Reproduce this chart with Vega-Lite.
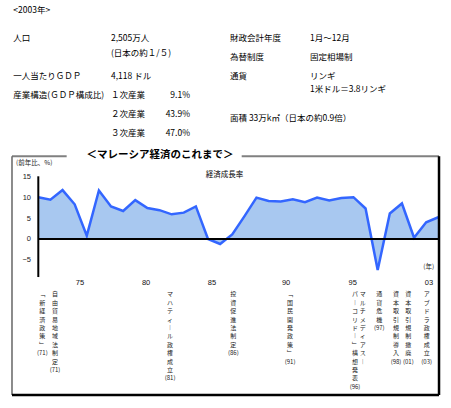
{
  "$schema": "https://vega.github.io/schema/vega-lite/v6.json",
  "padding": 0,
  "spacing": 0,
  "bounds": "flush",
  "config": {"view": {"stroke": null}, "font": "Noto Sans CJK JP", "text": {"font": "Noto Sans CJK JP"}},
  "datasets": {
    "one": [{}],
    "info": [
      {"text": "<2003年>", "col": 0, "line": -0.5},
      {"text": "人口", "col": 0, "line": 1},
      {"text": "2,505万人", "col": 1, "line": 1},
      {"text": "(日本の約１/５)", "col": 1, "line": 1.8},
      {"text": "一人当たりＧＤＰ", "col": 0, "line": 3},
      {"text": "4,118  ドル", "col": 1, "line": 3},
      {"text": "産業構造(ＧＤＰ構成比)", "col": 0, "line": 4},
      {"text": "１次産業", "col": 1, "line": 4},
      {"text": "9.1%", "col": 2, "line": 4},
      {"text": "２次産業", "col": 1, "line": 5},
      {"text": "43.9%", "col": 2, "line": 5},
      {"text": "３次産業", "col": 1, "line": 6},
      {"text": "47.0%", "col": 2, "line": 6},
      {"text": "財政会計年度", "col": 3, "line": 1},
      {"text": "1月～12月", "col": 4, "line": 1},
      {"text": "為替制度", "col": 3, "line": 2},
      {"text": "固定相場制", "col": 4, "line": 2},
      {"text": "通貨", "col": 3, "line": 3},
      {"text": "リンギ", "col": 4, "line": 3},
      {"text": "1米ドル＝3.8リンギ", "col": 4, "line": 3.7},
      {"text": "面積 33万k㎡（日本の約0.9倍）", "col": 3, "line": 5.2}
    ],
    "growth": [
      {"year": 1970, "growth": 10.0}, {"year": 1971, "growth": 9.4}, {"year": 1972, "growth": 11.7},
      {"year": 1973, "growth": 8.3}, {"year": 1974, "growth": 0.8}, {"year": 1975, "growth": 11.6},
      {"year": 1976, "growth": 7.8}, {"year": 1977, "growth": 6.7}, {"year": 1978, "growth": 9.3},
      {"year": 1979, "growth": 7.4}, {"year": 1980, "growth": 6.9}, {"year": 1981, "growth": 5.9},
      {"year": 1982, "growth": 6.3}, {"year": 1983, "growth": 7.8}, {"year": 1984, "growth": 0.0},
      {"year": 1985, "growth": -1.2}, {"year": 1986, "growth": 1.1}, {"year": 1987, "growth": 5.4},
      {"year": 1988, "growth": 9.9}, {"year": 1989, "growth": 9.1}, {"year": 1990, "growth": 9.0},
      {"year": 1991, "growth": 9.5}, {"year": 1992, "growth": 8.8}, {"year": 1993, "growth": 9.9},
      {"year": 1994, "growth": 9.2}, {"year": 1995, "growth": 9.8}, {"year": 1996, "growth": 10.0},
      {"year": 1997, "growth": 7.3}, {"year": 1998, "growth": -7.4}, {"year": 1999, "growth": 6.1},
      {"year": 2000, "growth": 8.5}, {"year": 2001, "growth": 0.3}, {"year": 2002, "growth": 4.0},
      {"year": 2003, "growth": 5.2}
    ],
    "xlabels": [
      {"label": "75", "year": 1973.44}, {"label": "80", "year": 1978.89}, {"label": "85", "year": 1984.33},
      {"label": "90", "year": 1990.44}, {"label": "95", "year": 1995.94}, {"label": "03", "year": 2002.23}
    ],
    "events": [
      {"text": "﹁\n新\n経\n済\n政\n策\n﹂\n(71)", "year": 1970.33},
      {"text": "自\n由\n貿\n易\n地\n域\n法\n制\n定\n(71)", "year": 1971.38},
      {"text": "マ\nハ\nテ\nィ\n︱\nル\n政\n権\n成\n立\n(81)", "year": 1980.87},
      {"text": "投\n資\n促\n進\n法\n制\n定\n\n(86)", "year": 1986.09},
      {"text": "﹁\n国\n民\n開\n発\n政\n策\n﹂\n(91)", "year": 1990.77},
      {"text": "マ\nル\nチ\nメ\nデ\nィ\nア\nス\n︱", "year": 1996.76},
      {"text": "パ\n︱\nコ\nリ\nド\n︱\n﹂\n構\n想\n発\n表\n(96)", "year": 1996.13},
      {"text": "通\n貨\n危\n機\n(97)", "year": 1998.13},
      {"text": "資\n本\n取\n引\n規\n制\n導\n入\n(98)", "year": 1999.51},
      {"text": "資\n本\n取\n引\n規\n制\n撤\n廃\n(01)", "year": 2000.53},
      {"text": "ア\nブ\nド\nラ\n政\n権\n成\n立\n(03)", "year": 2002.04}
    ]
  },
  "vconcat": [
    {
      "width": 451,
      "height": 156,
      "data": {"name": "info"},
      "layer": [
        {
          "transform": [{"filter": "datum.col != 2"}],
          "mark": {"type": "text", "align": "left", "baseline": "middle", "fontSize": 8.5, "color": "#000"},
          "encoding": {
            "x": {"field": "col", "type": "quantitative", "scale": {"domain": [0, 1, 2, 3, 4], "range": [13.3, 111, 190, 230, 310], "nice": false, "zero": false}, "axis": null},
            "y": {"field": "line", "type": "quantitative", "scale": {"domain": [-1.0265, 7.2275], "reverse": true, "nice": false, "zero": false}, "axis": null},
            "text": {"field": "text"}
          }
        },
        {
          "transform": [{"filter": "datum.col == 2"}],
          "mark": {"type": "text", "align": "right", "baseline": "middle", "fontSize": 8.5, "color": "#000"},
          "encoding": {
            "x": {"field": "col", "type": "quantitative", "scale": {"domain": [0, 1, 2, 3, 4], "range": [13.3, 111, 190, 230, 310], "nice": false, "zero": false}, "axis": null},
            "y": {"field": "line", "type": "quantitative", "scale": {"domain": [-1.0265, 7.2275], "reverse": true, "nice": false, "zero": false}, "axis": null},
            "text": {"field": "text"}
          }
        }
      ]
    },
    {
      "width": 440,
      "height": 252,
      "layer": [
        {
          "data": {"name": "growth"},
          "mark": {"type": "area", "color": "#a8c8f0", "opacity": 1},
          "encoding": {
            "x": {"field": "year", "type": "quantitative", "scale": {"domain": [1966.84, 2003.141], "nice": false, "zero": false}, "axis": null},
            "y": {"field": "growth", "type": "quantitative", "scale": {"domain": [-40.431, 19.856], "nice": false, "zero": false},
                  "axis": {"values": [15, 10, 5, 0, -5], "domain": false, "ticks": false, "grid": false, "labelPadding": 2, "offset": -32.5, "labelFont": "Liberation Sans", "labelFontSize": 7.5, "labelColor": "#222", "title": null}},
            "y2": {"datum": 0}
          }
        },
        {
          "data": {"name": "growth"},
          "mark": {"type": "line", "color": "#3366ff", "strokeWidth": 2.5},
          "encoding": {
            "x": {"field": "year", "type": "quantitative", "axis": null},
            "y": {"field": "growth", "type": "quantitative"}
          }
        },
        {
          "data": {"name": "one"},
          "mark": {"type": "rule", "color": "#000", "strokeWidth": 2},
          "encoding": {
            "x": {"datum": 1970, "type": "quantitative", "axis": null},
            "x2": {"datum": 2003},
            "y": {"datum": 0, "type": "quantitative"}
          }
        },
        {
          "data": {"name": "one"},
          "mark": {"type": "rule", "color": "#000", "strokeWidth": 2},
          "encoding": {
            "x": {"datum": 1970, "type": "quantitative", "axis": null},
            "y": {"datum": -9.1, "type": "quantitative"},
            "y2": {"datum": 15}
          }
        },
        {
          "data": {"name": "one"},
          "mark": {"type": "rule", "color": "#808080", "strokeWidth": 2},
          "encoding": {
            "x": {"datum": 1967.83, "type": "quantitative", "axis": null},
            "x2": {"datum": 1972.34},
            "y": {"datum": 19.8, "type": "quantitative"}
          }
        },
        {
          "data": {"name": "one"},
          "mark": {"type": "rule", "color": "#808080", "strokeWidth": 2},
          "encoding": {
            "x": {"datum": 1986.78, "type": "quantitative", "axis": null},
            "x2": {"datum": 2003.06},
            "y": {"datum": 19.8, "type": "quantitative"}
          }
        },
        {
          "data": {"name": "one"},
          "mark": {"type": "rule", "color": "#666666", "strokeWidth": 1.5},
          "encoding": {
            "x": {"datum": 1967.83, "type": "quantitative", "axis": null},
            "y": {"datum": 19.8, "type": "quantitative"},
            "y2": {"datum": -37.32}
          }
        },
        {
          "data": {"name": "one"},
          "mark": {"type": "rule", "color": "#000", "strokeWidth": 2.5},
          "encoding": {
            "x": {"datum": 1967.83, "type": "quantitative", "axis": null},
            "x2": {"datum": 2003.06},
            "y": {"datum": -37.32, "type": "quantitative"}
          }
        },
        {
          "data": {"name": "one"},
          "mark": {"type": "rule", "color": "#000", "strokeWidth": 2.5},
          "encoding": {
            "x": {"datum": 2003.06, "type": "quantitative", "axis": null},
            "y": {"datum": 19.8, "type": "quantitative"},
            "y2": {"datum": -37.32}
          }
        },
        {
          "data": {"name": "one"},
          "mark": {"type": "text", "text": "＜マレーシア経済のこれまで＞", "fontSize": 10.5, "fontWeight": "bold", "align": "center", "baseline": "middle", "color": "#000"},
          "encoding": {
            "x": {"datum": 1980.04, "type": "quantitative", "axis": null},
            "y": {"datum": 19.98, "type": "quantitative"}
          }
        },
        {
          "data": {"name": "one"},
          "mark": {"type": "text", "text": "(前年比、%)", "fontSize": 6.5, "align": "left", "baseline": "middle", "color": "#222"},
          "encoding": {
            "x": {"datum": 1968.16, "type": "quantitative", "axis": null},
            "y": {"datum": 18.18, "type": "quantitative"}
          }
        },
        {
          "data": {"name": "one"},
          "mark": {"type": "text", "text": "経済成長率", "fontSize": 7.5, "align": "center", "baseline": "middle", "color": "#000"},
          "encoding": {
            "x": {"datum": 1985.36, "type": "quantitative", "axis": null},
            "y": {"datum": 15.31, "type": "quantitative"}
          }
        },
        {
          "data": {"name": "one"},
          "mark": {"type": "text", "text": "(年)", "fontSize": 6.5, "align": "center", "baseline": "middle", "color": "#222"},
          "encoding": {
            "x": {"datum": 2002.21, "type": "quantitative", "axis": null},
            "y": {"datum": -6.63, "type": "quantitative"}
          }
        },
        {
          "data": {"name": "xlabels"},
          "mark": {"type": "text", "font": "Liberation Sans", "fontSize": 7.5, "align": "center", "baseline": "middle", "color": "#111"},
          "encoding": {
            "x": {"field": "year", "type": "quantitative", "axis": null},
            "y": {"datum": -10.6, "type": "quantitative"},
            "text": {"field": "label"}
          }
        },
        {
          "data": {"name": "events"},
          "mark": {"type": "text", "fontSize": 6, "lineHeight": 8.4, "lineBreak": "\n", "align": "center", "baseline": "top", "color": "#222"},
          "encoding": {
            "x": {"field": "year", "type": "quantitative", "axis": null},
            "y": {"datum": -12.56, "type": "quantitative"},
            "text": {"field": "text"}
          }
        }
      ]
    }
  ]
}
